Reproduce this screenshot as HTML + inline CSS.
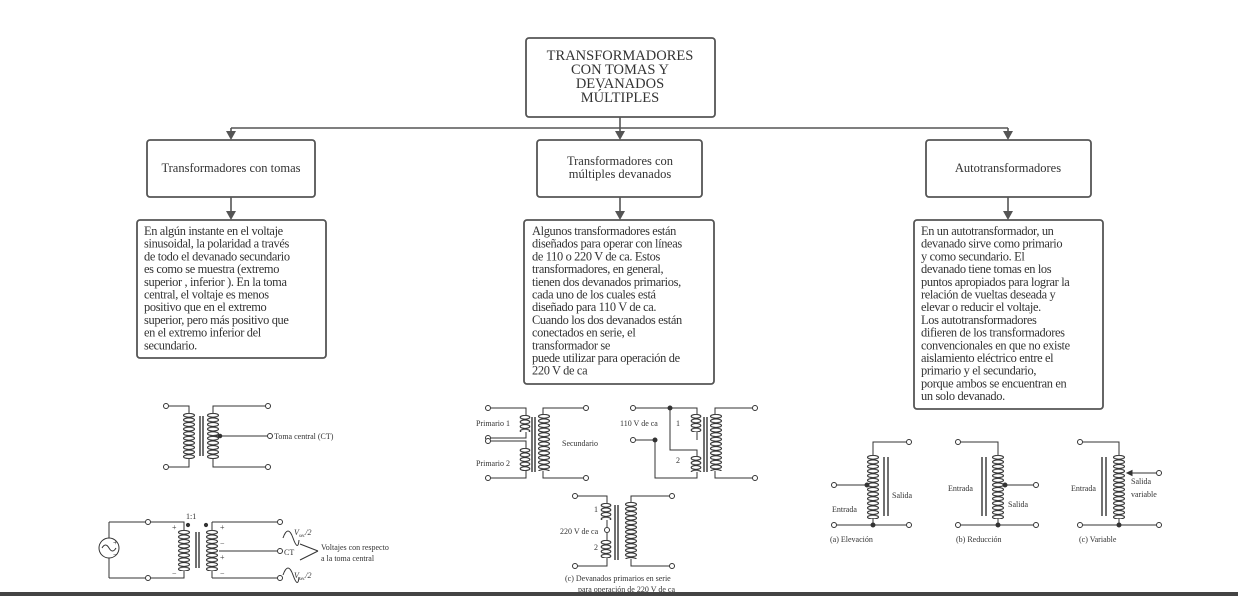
<!DOCTYPE html>
<html><head><meta charset="utf-8"><style>
html,body{margin:0;padding:0;background:#fff;}
svg{display:block}
text{font-family:"Liberation Serif",serif;fill:#333}
.b{font-size:12.4px;letter-spacing:-0.35px}
.s{font-size:8px;fill:#222}
</style></head><body>
<svg width="1238" height="596" viewBox="0 0 1238 596" xmlns="http://www.w3.org/2000/svg">
<defs>
<pattern id="coil" x="0" y="0" width="14" height="4.6" patternUnits="userSpaceOnUse">
<ellipse cx="7" cy="2.3" rx="5.5" ry="1.9" fill="none" stroke="#333" stroke-width="1.1"/>
</pattern>
<pattern id="coil12" x="0" y="0" width="12" height="4.6" patternUnits="userSpaceOnUse">
<ellipse cx="6" cy="2.3" rx="4.8" ry="1.9" fill="none" stroke="#333" stroke-width="1.1"/>
</pattern>
</defs>
<g stroke="#555" stroke-width="1.6" fill="none">
<line x1="620" y1="117" x2="620" y2="132"/>
<line x1="231" y1="128" x2="1008" y2="128"/>
<line x1="231" y1="128" x2="231" y2="132"/>
<line x1="1008" y1="128" x2="1008" y2="132"/>
<line x1="231" y1="197" x2="231" y2="212"/>
<line x1="620" y1="197" x2="620" y2="212"/>
<line x1="1008" y1="197" x2="1008" y2="212"/>
</g>
<g fill="#555">
<path d="M226,131 h10 l-5,9 z"/><path d="M615,131 h10 l-5,9 z"/><path d="M1003,131 h10 l-5,9 z"/>
<path d="M226,211 h10 l-5,9 z"/><path d="M615,211 h10 l-5,9 z"/><path d="M1003,211 h10 l-5,9 z"/>
</g>
<g stroke="#555" stroke-width="1.8" fill="#fff">
<rect x="526" y="38" width="189" height="79" rx="3"/>
<rect x="147" y="140" width="168" height="57" rx="3"/>
<rect x="537" y="140" width="165" height="57" rx="3"/>
<rect x="926" y="140" width="165" height="57" rx="3"/>
<rect x="137" y="220" width="189" height="138" rx="3"/>
<rect x="524" y="220" width="190" height="164" rx="3"/>
<rect x="914" y="220" width="189" height="189" rx="3"/>
</g>
<g font-size="14.5" text-anchor="middle">
<text x="620" y="60">TRANSFORMADORES</text>
<text x="620" y="74">CON TOMAS Y</text>
<text x="620" y="88">DEVANADOS</text>
<text x="620" y="102">MÚLTIPLES</text>
</g>
<g font-size="12.5" text-anchor="middle">
<text x="231" y="172">Transformadores con tomas</text>
<text x="620" y="165">Transformadores con</text>
<text x="620" y="178">múltiples devanados</text>
<text x="1008" y="172">Autotransformadores</text>
</g>
<g class="b">
<text x="144" y="235">En algún instante en el voltaje</text>
<text x="144" y="247.7">sinusoidal, la polaridad a través</text>
<text x="144" y="260.4">de todo el devanado secundario</text>
<text x="144" y="273.1">es como se muestra (extremo</text>
<text x="144" y="285.8">superior , inferior ). En la toma</text>
<text x="144" y="298.5">central, el voltaje es menos</text>
<text x="144" y="311.2">positivo que en el extremo</text>
<text x="144" y="323.9">superior, pero más positivo que</text>
<text x="144" y="336.6">en el extremo inferior del</text>
<text x="144" y="349.3">secundario.</text>

<text x="532" y="235">Algunos transformadores están</text>
<text x="532" y="247.7">diseñados para operar con líneas</text>
<text x="532" y="260.4">de 110 o 220 V de ca. Estos</text>
<text x="532" y="273.1">transformadores, en general,</text>
<text x="532" y="285.8">tienen dos devanados primarios,</text>
<text x="532" y="298.5">cada uno de los cuales está</text>
<text x="532" y="311.2">diseñado para 110 V de ca.</text>
<text x="532" y="323.9">Cuando los dos devanados están</text>
<text x="532" y="336.6">conectados en serie, el</text>
<text x="532" y="349.3">transformador se</text>
<text x="532" y="362">puede utilizar para operación de</text>
<text x="532" y="374.7">220 V de ca</text>

<text x="921" y="235">En un autotransformador, un</text>
<text x="921" y="247.7">devanado sirve como primario</text>
<text x="921" y="260.4">y como secundario. El</text>
<text x="921" y="273.1">devanado tiene tomas en los</text>
<text x="921" y="285.8">puntos apropiados para lograr la</text>
<text x="921" y="298.5">relación de vueltas deseada y</text>
<text x="921" y="311.2">elevar o reducir el voltaje.</text>
<text x="921" y="323.9">Los autotransformadores</text>
<text x="921" y="336.6">difieren de los transformadores</text>
<text x="921" y="349.3">convencionales en que no existe</text>
<text x="921" y="362">aislamiento eléctrico entre el</text>
<text x="921" y="374.7">primario y el secundario,</text>
<text x="921" y="387.4">porque ambos se encuentran en</text>
<text x="921" y="400.1">un solo devanado.</text>
</g>

<g stroke="#333" stroke-width="1" fill="none">
<!-- D1 top-left -->
<path d="M169,406 H189 V413 M169,467 H189 V458 M265,406 H213 V413 M265,467 H213 V458 M213,436 H267"/>
<g transform="translate(182,413)"><rect width="14" height="46" fill="url(#coil)" stroke="none"/></g>
<g transform="translate(206,413)"><rect width="14" height="46" fill="url(#coil)" stroke="none"/></g>
<path d="M200,416 V456 M203,416 V456" stroke-width="1.4"/>
<circle cx="166" cy="406" r="2.5" fill="#fff"/><circle cx="166" cy="467" r="2.5" fill="#fff"/>
<circle cx="268" cy="406" r="2.5" fill="#fff"/><circle cx="268" cy="467" r="2.5" fill="#fff"/>
<circle cx="270" cy="436" r="2.5" fill="#fff"/>
<circle cx="220" cy="436" r="1.8" fill="#333"/>
<!-- D2 bottom-left -->
<path d="M109,522 H145 M109,578 H145 M109,522 V538 M109,558 V578 M151,522 H184 V530 M151,578 H184 V571 M212,522 H277 M212,522 V530 M212,578 H277 M212,578 V571 M219,551 H277"/>
<circle cx="109" cy="548" r="10"/>
<path d="M102,548 q3.5,-6 7,0 t7,0"/>
<g transform="translate(177,530)"><rect width="14" height="41" fill="url(#coil)" stroke="none"/></g>
<g transform="translate(205,530)"><rect width="14" height="41" fill="url(#coil)" stroke="none"/></g>
<path d="M196,532 V568 M199,532 V568" stroke-width="1.4"/>
<circle cx="188" cy="525" r="1.6" fill="#333"/><circle cx="206" cy="525" r="1.6" fill="#333"/>
<circle cx="148" cy="522" r="2.5" fill="#fff"/><circle cx="148" cy="578" r="2.5" fill="#fff"/>
<circle cx="280" cy="522" r="2.5" fill="#fff"/><circle cx="280" cy="578" r="2.5" fill="#fff"/><circle cx="280" cy="551" r="2.5" fill="#fff"/>
<path d="M283,538 q5,-14 10,0 t6,2 M283,575 q5,-14 10,0 t6,2"/>
<path d="M318,551 L300,544 M318,551 L300,560"/>
<!-- D3 middle a -->
<path d="M491,408 H526 V415 M491,438 H526 V432 M491,441 H526 V448 M491,478 H526 V471 M583,408 H543 V414 M583,478 H543 V471"/>
<g transform="translate(519,415)"><rect width="12" height="17" fill="url(#coil12)" stroke="none"/></g>
<g transform="translate(519,448)"><rect width="12" height="23" fill="url(#coil12)" stroke="none"/></g>
<g transform="translate(537,414)"><rect width="14" height="57" fill="url(#coil)" stroke="none"/></g>
<path d="M532,417 V472 M535,417 V472" stroke-width="1.4"/>
<circle cx="488" cy="408" r="2.5" fill="#fff"/><circle cx="488" cy="438" r="2.5" fill="#fff"/><circle cx="488" cy="441" r="2.5" fill="#fff"/><circle cx="488" cy="478" r="2.5" fill="#fff"/>
<circle cx="586" cy="408" r="2.5" fill="#fff"/><circle cx="586" cy="478" r="2.5" fill="#fff"/>
<!-- D4 middle b -->
<path d="M636,408 H697 V414 M636,440 H655 M670,408 V450 H697 V456 M655,440 V478 H697 V472 M697,432 V440 M752,408 H715 V414 M752,478 H715 V471"/>
<g transform="translate(690,414)"><rect width="12" height="18" fill="url(#coil12)" stroke="none"/></g>
<g transform="translate(690,456)"><rect width="12" height="16" fill="url(#coil12)" stroke="none"/></g>
<g transform="translate(709,414)"><rect width="14" height="57" fill="url(#coil)" stroke="none"/></g>
<path d="M704,417 V472 M707,417 V472" stroke-width="1.4"/>
<circle cx="670" cy="408" r="2" fill="#333"/><circle cx="655" cy="440" r="2" fill="#333"/>
<circle cx="633" cy="408" r="2.5" fill="#fff"/><circle cx="633" cy="440" r="2.5" fill="#fff"/>
<circle cx="755" cy="408" r="2.5" fill="#fff"/><circle cx="755" cy="478" r="2.5" fill="#fff"/>
<!-- D5 middle c -->
<path d="M578,496 H607 V503 M578,566 H607 V558 M607,520 V527 M607,533 V540 M669,496 H631 V502 M669,566 H631 V559"/>
<g transform="translate(600,503)"><rect width="12" height="17" fill="url(#coil12)" stroke="none"/></g>
<g transform="translate(600,540)"><rect width="12" height="18" fill="url(#coil12)" stroke="none"/></g>
<g transform="translate(624,502)"><rect width="14" height="57" fill="url(#coil)" stroke="none"/></g>
<path d="M615,505 V560 M618,505 V560" stroke-width="1.4"/>
<circle cx="607" cy="530" r="2.5" fill="#fff"/>
<circle cx="575" cy="496" r="2.5" fill="#fff"/><circle cx="575" cy="566" r="2.5" fill="#fff"/>
<circle cx="672" cy="496" r="2.5" fill="#fff"/><circle cx="672" cy="566" r="2.5" fill="#fff"/>
<!-- R a -->
<path d="M837,485 H867 M837,525 H906 M873,525 V518 M873,455 V442 H906"/>
<g transform="translate(866,455)"><rect width="14" height="64" fill="url(#coil)" stroke="none"/></g>
<path d="M884,457 V516 M888,457 V516" stroke-width="1.4"/>
<circle cx="867" cy="485" r="2" fill="#333"/><circle cx="873" cy="525" r="2" fill="#333"/>
<circle cx="834" cy="485" r="2.5" fill="#fff"/><circle cx="834" cy="525" r="2.5" fill="#fff"/>
<circle cx="909" cy="442" r="2.5" fill="#fff"/><circle cx="909" cy="525" r="2.5" fill="#fff"/>
<!-- R b -->
<path d="M961,442 H998 V455 M961,525 H1033 M998,525 V518 M1005,485 H1033"/>
<g transform="translate(991,455)"><rect width="14" height="64" fill="url(#coil)" stroke="none"/></g>
<path d="M982,457 V516 M986,457 V516" stroke-width="1.4"/>
<circle cx="1005" cy="485" r="2" fill="#333"/><circle cx="998" cy="525" r="2" fill="#333"/>
<circle cx="958" cy="442" r="2.5" fill="#fff"/><circle cx="958" cy="525" r="2.5" fill="#fff"/>
<circle cx="1036" cy="485" r="2.5" fill="#fff"/><circle cx="1036" cy="525" r="2.5" fill="#fff"/>
<!-- R c -->
<path d="M1083,442 H1119 V455 M1083,525 H1156 M1119,525 V518 M1156,473 H1130"/>
<path d="M1127,473 l5,-2.5 v5 z" fill="#333"/>
<g transform="translate(1112,455)"><rect width="14" height="64" fill="url(#coil)" stroke="none"/></g>
<path d="M1102,457 V516 M1106,457 V516" stroke-width="1.4"/>
<circle cx="1119" cy="525" r="2" fill="#333"/>
<circle cx="1080" cy="442" r="2.5" fill="#fff"/><circle cx="1080" cy="525" r="2.5" fill="#fff"/>
<circle cx="1159" cy="473" r="2.5" fill="#fff"/><circle cx="1159" cy="525" r="2.5" fill="#fff"/>
</g>
<g class="s">
<text x="274" y="439">Toma central (CT)</text>
<text x="186" y="519">1:1</text>
<text x="113" y="545">+</text><text x="113" y="557">−</text>
<text x="172" y="530">+</text><text x="172" y="576">−</text>
<text x="220" y="530">+</text><text x="220" y="576">−</text>
<text x="220" y="546">−</text><text x="220" y="560">+</text>
<text x="284" y="555">CT</text>
<text x="294" y="535" font-style="italic">V<tspan font-size="5" dy="2">sec</tspan><tspan dy="-2">/2</tspan></text>
<text x="294" y="578" font-style="italic">V<tspan font-size="5" dy="2">sec</tspan><tspan dy="-2">/2</tspan></text>
<text x="321" y="550">Voltajes con respecto</text>
<text x="321" y="561">a la toma central</text>
<text x="476" y="426">Primario 1</text>
<text x="476" y="466">Primario 2</text>
<text x="562" y="446">Secundario</text>
<text x="620" y="426">110 V de ca</text>
<text x="676" y="426">1</text><text x="676" y="463">2</text>
<text x="594" y="512">1</text><text x="594" y="550">2</text>
<text x="560" y="534">220 V de ca</text>
<text x="565" y="581">(c) Devanados primarios en serie</text>
<text x="578" y="592">para operación de 220 V de ca</text>
<text x="832" y="512">Entrada</text><text x="892" y="498">Salida</text>
<text x="830" y="542">(a) Elevación</text>
<text x="948" y="491">Entrada</text><text x="1008" y="507">Salida</text>
<text x="956" y="542">(b) Reducción</text>
<text x="1071" y="491">Entrada</text><text x="1131" y="484">Salida</text><text x="1131" y="497">variable</text>
<text x="1079" y="542">(c) Variable</text>
</g>
<rect x="0" y="592" width="1238" height="4" fill="#444"/>
</svg>
</body></html>
